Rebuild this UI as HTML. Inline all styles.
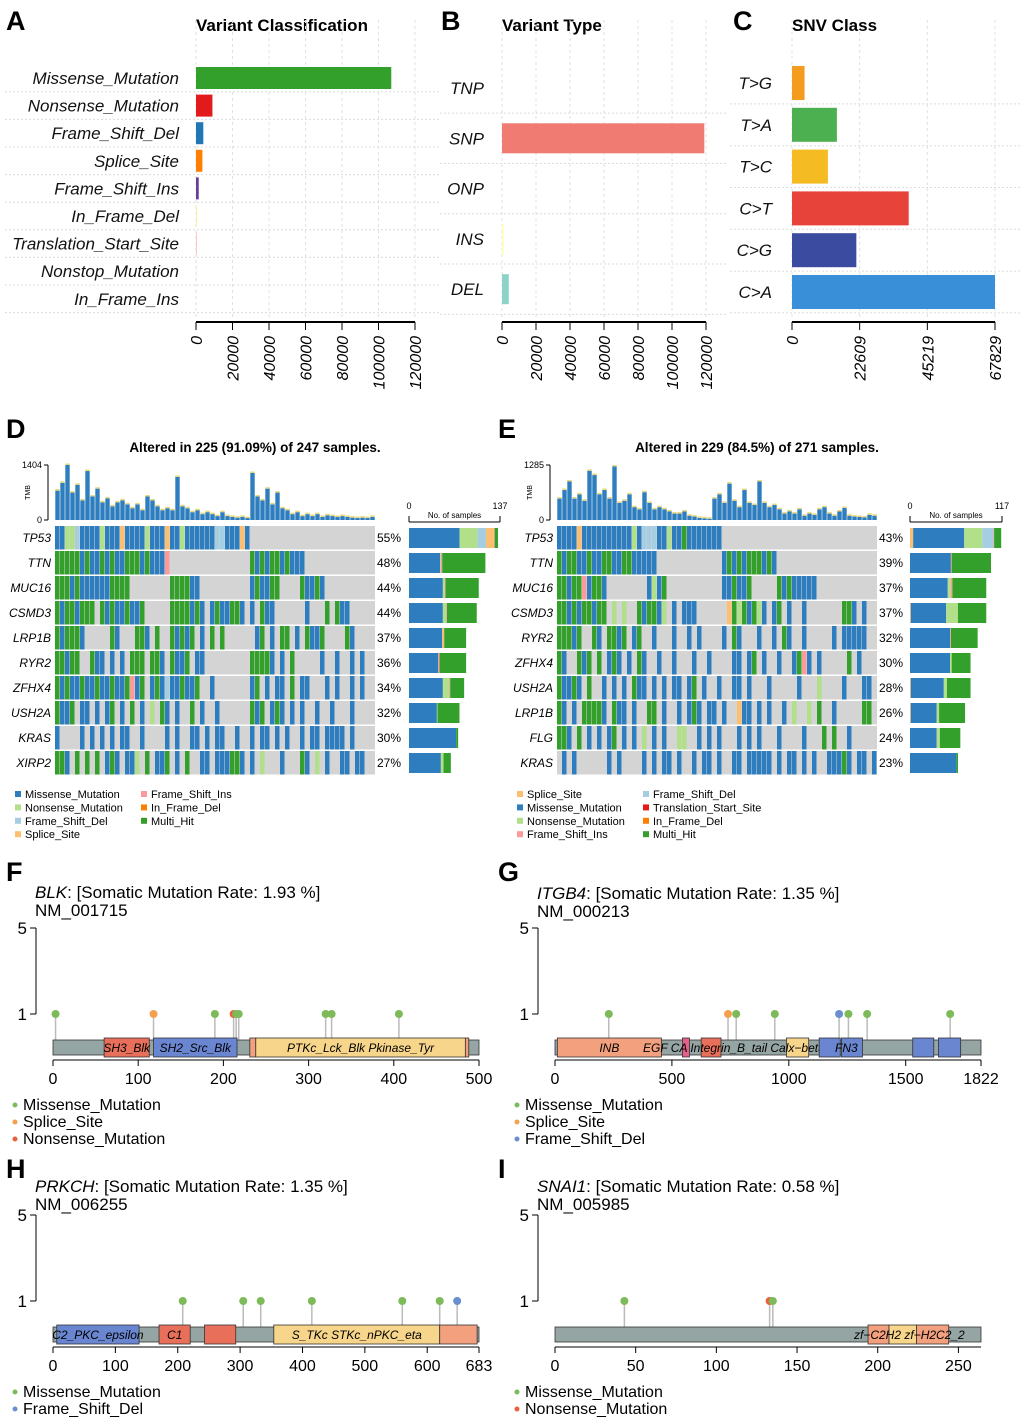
<!DOCTYPE html>
<html><head><meta charset="utf-8"><style>
html,body{margin:0;padding:0;background:#fff}
svg{display:block;font-family:"Liberation Sans",sans-serif}
</style></head><body>
<svg id="fig" width="1020" height="1424" viewBox="0 0 1020 1424" xmlns="http://www.w3.org/2000/svg"></svg>
<script>
// ---------- data ----------
const vcCats=["Missense_Mutation","Nonsense_Mutation","Frame_Shift_Del","Splice_Site","Frame_Shift_Ins","In_Frame_Del","Translation_Start_Site","Nonstop_Mutation","In_Frame_Ins"];
const vcVals=[107000,9000,4000,3500,1500,500,300,80,30];
const vcColors=["#33a02c","#e31a1c","#1f78b4","#ff7f00","#6a3d9a","#fdf2a0","#fb9a99","#a6cee3","#cab2d6"];
const vcTicks=[0,20000,40000,60000,80000,100000,120000];
const vtCats=["TNP","SNP","ONP","INS","DEL"];
const vtVals=[0,119000,0,1000,4000];
const vtColors=["#fdb462","#f07b72","#bebada","#ffffb3","#8dd3c7"];
const vtTicks=[0,20000,40000,60000,80000,100000,120000];
const snvCats=["T>G","T>A","T>C","C>T","C>G","C>A"];
const snvVals=[4200,15000,12000,39000,21500,67829];
const snvColors=["#f39c1f","#4caf50","#f5bb22","#e8433a","#3b4ba0","#3a8fd9"];
const snvTicks=[0,22609,45219,67829];

const dGenes=["TP53","TTN","MUC16","CSMD3","LRP1B","RYR2","ZFHX4","USH2A","KRAS","XIRP2"];
const dPct=["55%","48%","44%","44%","37%","36%","34%","32%","30%","27%"];
const dRows=[
"MMNNFMMMMNMMMSMMMMNMMMSMMNMMMMMMFFMMMSM",
"HHHHHMHMMHMHMMHHHMHMMMI................HMHMHHMHMMM",
"HHHMHMMMMMMHHHH........HHHHMM..........MHMMHH....HMMHM",
"HMHHMHHH.HMHMMHMMH.....HHHHMHM.MHMMHHM.M.HMM......M...H.HMM",
"HMHHHM.....HM...HHM.H..HMHMH.M.H.H......MH.M.HH.M.HMMH....HM",
"HHMHH..HMM.M.M.HHH.HHM.HMMH.MM.........HHHHM.M.H.....M..M..M.M",
"HMHMMHMMHMMHMMHIMH.MHMFMMHMMH..M.......MH.M.MM.H.MM...M.M..M.M",
"HMMH.MM.M.MH.M.H.M.N.HM.M..H.M..M......HMH.MHM.M.M..M..M...M..",
"M....M.M.M.M.MM..M....M.M..MM.M.MM..M..M.MM.M.M..M.MM.MMMM.M",
"HHM.H.H.H.MHM.MMN.H.MMH.M.H..MM.MMMHHM.M.N...M...HM.N.M..MM.MM"];
const dTmb=[750,950,1404,700,900,500,1250,600,800,450,550,350,450,500,400,300,400,250,600,500,350,250,300,250,1100,350,300,200,250,150,200,150,100,200,100,80,60,80,50,1200,600,500,800,400,700,300,250,150,200,100,150,100,150,80,120,100,80,100,80,60,50,60,50,80];
const dMax=137;
const dBarM=[76,47,51,51,50,44,51,42,71,48];
const dBarN=[27,1,3,5,0,0,10,1,0,4];
const dBarF=[13,0,0,0,0,0,0,0,0,0];
const dBarS=[12,0,0,0,3,0,0,0,0,0];
const dBarI=[1,2,1,1,0,2,1,0,0,0];
const dBarH=[5,65,50,45,33,40,21,33,3,11];

const eGenes=["TP53","TTN","MUC16","CSMD3","RYR2","ZFHX4","USH2A","LRP1B","FLG","KRAS"];
const ePct=["43%","39%","37%","37%","32%","30%","28%","26%","24%","23%"];
const eRows=[
"MMMMSMMMMMMMMMMNMFFFMMNMMHMMMMMMM",
"HMHHMMHMMHHMMHHMMMMM.............MHMHMHHHMHM",
"HHMHHIMHHM........MNMH...........MMHMMH.....HMHMMMMM",
"HHMHMHHMHH.N.N..HMHHMN.M.MMM......SHNHMHNM.MH.M..M.......HHM.M",
"HHHMH..HM.HHMH.MH..M...M..M.M....M.HM...M..M.HM..M.....M.MMMMM",
"HM..HMH.H.MHM.M.HM..M..M...M..M....MM.MH.M..M..MHIM.M.....H.M",
"HMMHM.H..M.M.M.HMM.M.M.MM.MH.M..M..MM.M...M.....M...N....M...MM",
"HM.M.HHHHM.HMM.M..HH.M..M.MHM.MM.M..SMM.M.M..M.N..N.H..M.....HH",
"HHM.H.M.M.MH.M.M.N.M.M..NN..M.M.M...M.M.M...M....M...H.H..M..",
".M.M......M.M....M.M.MM.M..M.MM.M..MM.MMMMM.M.MM.M.M..MMMHM.MM.M"];
const eTmb=[500,700,900,500,600,450,1150,1050,600,700,500,1250,400,450,600,300,250,650,400,250,300,250,200,150,150,200,100,80,50,40,30,500,600,400,850,450,300,700,400,350,900,400,300,350,250,150,200,150,250,100,150,120,250,300,150,100,200,280,100,80,70,60,120,100];
const eMax=117;
const eBarS=[4,0,0,1,0,0,1,1,0,0];
const eBarM=[65,52,48,45,51,51,42,33,34,59];
const eBarN=[23,0,4,15,0,2,4,3,4,0];
const eBarF=[14,0,0,0,0,0,0,0,0,0];
const eBarI=[1,1,2,0,1,0,0,0,0,0];
const eBarH=[9,50,43,36,34,24,30,33,26,2];

// lollipop data
const blkDom=[["SH3_Blk",60,113,"#e8705a"],["SH2_Src_Blk",118,216,"#6a86d1"],["",231,238,"#f2a07d"],["PTKc_Lck_Blk    Pkinase_Tyr",238,484,"#f7d58a"],["",484,488,"#f2a07d"]];
const blkPos=[3,118,190,212,215,218,320,327,406];
const blkType=["M","S","M","N","M","M","M","M","M"];
const itgDom=[["INB",10,455,"#f2a07d"],["",545,575,"#e3608a"],["",625,710,"#e8705a"],["Calx−beta",990,1085,"#f7d58a"],["",1130,1220,"#6a86d1"],["",1225,1315,"#6a86d1"],["",1530,1620,"#6a86d1"],["",1640,1735,"#6a86d1"]];
const itgPos=[230,740,775,940,1215,1255,1335,1690];
const itgType=["M","S","M","M","F","M","M","M"];
const prkDom=[["C2_PKC_epsilon",6,138,"#6a86d1"],["C1",170,220,"#e8705a"],["",243,293,"#e8705a"],["S_TKc   STKc_nPKC_eta",354,620,"#f7d58a"],["",620,680,"#f2a07d"]];
const prkPos=[208,305,333,415,560,620,648];
const prkType=["M","M","M","M","M","M","F"];
const snaDom=[["",194,207,"#f2a07d"],["",207,224,"#f7d58a"],["",224,244,"#f2a07d"]];
const snaPos=[43,133,135];
const snaType=["M","N","M"];

// ---------- helpers ----------
const NS="http://www.w3.org/2000/svg";
const svg=document.getElementById("fig");
function mk(tag,attrs,parent,txt){const e=document.createElementNS(NS,tag);for(const k in attrs)e.setAttribute(k,attrs[k]);if(txt!==undefined)e.textContent=txt;(parent||svg).appendChild(e);return e;}
function grp(name){const g=mk("g",{});


return g;}

[["A",6,30],["B",441,30],["C",733,30],["D",6,438],["E",498,438],["F",6,881],["G",498,881],["H",6,1178],["I",498,1178]].forEach(([l,x,y])=>{
 const t=mk("text",{x:x,y:y,"font-size":27,"font-weight":"bold"},svg,l);
 
 
});

// ---------- summary bar charts ----------
function hbar(name,title,cats,vals,colors,ticks,x0,x1,vmax,y0,step,bh,gridL,gridR,labelX){
 const g=grp(name);
 const sx=v=>x0+(v/vmax)*(x1-x0);
 const t=mk("text",{x:x0,y:31,"font-size":17,"font-weight":"bold"},g,title);
 
 
 ticks.forEach(v=>{mk("line",{x1:sx(v),x2:sx(v),y1:20,y2:320,stroke:"#e2e2e2","stroke-dasharray":"3,3"},g);});
 cats.forEach((c,i)=>{
  const yc=y0+i*step;
  mk("line",{x1:gridL,x2:gridR,y1:yc+step/2,y2:yc+step/2,stroke:"#dcdcdc","stroke-dasharray":"2,2"},g);
  const lb=mk("text",{x:labelX,y:yc+6,"font-size":17,"font-style":"italic","text-anchor":"end",fill:"#111"},g,c);
  
  
  const r=mk("rect",{x:x0,y:yc-bh/2,width:Math.max(0,sx(vals[i])-x0),height:bh,fill:colors[i]},g);
  
  
 });
 mk("line",{x1:x0,x2:x1,y1:322,y2:322,stroke:"#000","stroke-width":2},g);
 ticks.forEach(v=>{
  mk("line",{x1:sx(v),x2:sx(v),y1:322,y2:330,stroke:"#000","stroke-width":1},g);
  const tl=mk("text",{x:0,y:0,"font-size":16,"font-style":"italic","text-anchor":"end",transform:`translate(${sx(v)+6},336) rotate(-90)`},g,String(v));
  
  
 });
}
hbar("variant-classification-chart","Variant Classification",vcCats,vcVals,vcColors,vcTicks,196,415,120000,78,27.6,22,5,440,179);
hbar("variant-type-chart","Variant Type",vtCats,vtVals,vtColors,vtTicks,502,706,120000,88,50.3,30,440,728,484);
hbar("snv-class-chart","SNV Class",snvCats,snvVals,snvColors,snvTicks,792,995,67829,83,41.8,34,730,1020,772);

// ---------- oncoplots ----------
const mutCol={M:"#2e7ebf",H:"#33a02c",N:"#b2df8a",F:"#a6cee3",S:"#fdbf6f",I:"#fb9a99",D:"#ff7f00",T:"#e31a1c"};
function oncoplot(name,title,titleX,genes,pct,rows,tmb,tmbMaxLabel,mx,x0,x1,bx0,bx1,bars,barKeys,legend,legX){
 const g=grp(name);
 const tt=mk("text",{x:titleX,y:452,"font-size":13.5,"font-weight":"bold","text-anchor":"middle"},g,title);
 
 
 const tmax=tmbMaxLabel, tyTop=465, tyBot=520;
 mk("line",{x1:x0-7,x2:x0-7,y1:tyTop,y2:tyBot,stroke:"#000"},g);
 mk("line",{x1:x0-11,x2:x0-7,y1:tyTop,y2:tyTop,stroke:"#000"},g);
 mk("line",{x1:x0-11,x2:x0-7,y1:tyBot,y2:tyBot,stroke:"#000"},g);
 mk("text",{x:x0-13,y:tyTop+3,"font-size":9,"text-anchor":"end"},g,String(tmax));
 mk("text",{x:x0-13,y:tyBot+3,"font-size":9,"text-anchor":"end"},g,"0");
 mk("text",{x:0,y:0,"font-size":7,"text-anchor":"middle",transform:`translate(${x0-25},${(tyTop+tyBot)/2}) rotate(-90)`},g,"TMB");
 const tw=(x1-x0)/tmb.length;
 tmb.forEach((v,i)=>{
  const h=v/tmax*(tyBot-tyTop);
  const b=mk("rect",{x:x0+i*tw+0.3,y:tyBot-h,width:tw-0.6,height:h,fill:"#2e7ebf"},g);
  
  
  mk("rect",{x:x0+i*tw+0.3,y:tyBot-h-1.5,width:tw-0.6,height:1.5,fill:"#e8d77a"},g);
 });
 const ncol=64, cw=(x1-x0)/ncol, rh=25, my=526;
 genes.forEach((gn,r)=>{
  const y=my+r*rh;
  const bg=mk("rect",{x:x0,y:y,width:x1-x0,height:rh-1.5,fill:"#d4d4d4"},g);
  
  
  const s=rows[r];
  for(let c=0;c<ncol&&c<s.length;c++){
   const ch=s[c]; if(ch==='.')continue;
   const cell=mk("rect",{x:x0+c*cw,y:y,width:cw-0.5,height:rh-1.5,fill:mutCol[ch]},g);
   
   
  }
  const gl=mk("text",{x:x0-4,y:y+16,"font-size":12,"font-style":"italic","text-anchor":"end"},g,gn);
  
  
  const pl=mk("text",{x:x1+2,y:y+16,"font-size":12},g,pct[r]);
  
  
  let bx=bx0;
  barKeys.forEach((k,ki)=>{
   const v=bars[ki][r]; if(!v)return;
   const w=v/mx*(bx1-bx0);
   const sb=mk("rect",{x:bx,y:y+2,width:w,height:rh-5,fill:mutCol[k]},g);
   
   
   bx+=w;
  });
 });
 mk("line",{x1:bx0,x2:bx1,y1:522,y2:522,stroke:"#000"},g);
 mk("line",{x1:bx0,x2:bx0,y1:516,y2:522,stroke:"#000"},g);
 mk("line",{x1:bx1,x2:bx1,y1:516,y2:522,stroke:"#000"},g);
 mk("text",{x:bx0,y:509,"font-size":9,"text-anchor":"middle"},g,"0");
 mk("text",{x:bx1,y:509,"font-size":9,"text-anchor":"middle"},g,String(mx));
 mk("text",{x:(bx0+bx1)/2,y:518,"font-size":8,"text-anchor":"middle"},g,"No. of samples");
 legend.forEach(([k,lab,col,row],i)=>{
  const lx=legX+col*126, ly=796+row*13.4;
  const sq=mk("rect",{x:lx,y:ly-5,width:6,height:6,fill:mutCol[k]},g);
  
  
  const lt=mk("text",{x:lx+10,y:ly+2,"font-size":11},g,lab);
  
  
 });
}
oncoplot("oncoplot-d","Altered in 225 (91.09%) of 247 samples.",255,dGenes,dPct,dRows,dTmb,1404,dMax,55,375,409,500,
 [dBarM,dBarN,dBarF,dBarS,dBarI,dBarH],["M","N","F","S","I","H"],
 [["M","Missense_Mutation",0,0],["N","Nonsense_Mutation",0,1],["F","Frame_Shift_Del",0,2],["S","Splice_Site",0,3],["I","Frame_Shift_Ins",1,0],["D","In_Frame_Del",1,1],["H","Multi_Hit",1,2]],15);
oncoplot("oncoplot-e","Altered in 229 (84.5%) of 271 samples.",757,eGenes,ePct,eRows,eTmb,1285,eMax,557,877,910,1002,
 [eBarS,eBarM,eBarN,eBarF,eBarI,eBarH],["S","M","N","F","I","H"],
 [["S","Splice_Site",0,0],["M","Missense_Mutation",0,1],["N","Nonsense_Mutation",0,2],["I","Frame_Shift_Ins",0,3],["F","Frame_Shift_Del",1,0],["T","Translation_Start_Site",1,1],["D","In_Frame_Del",1,2],["H","Multi_Hit",1,3]],517);

// ---------- lollipops ----------
const lolCol={M:"#7dbb5a",S:"#f5a050",N:"#e8603c",F:"#6a8fcf"};
function lollipop(name,gene,rate,nm,x0,x1,len,ticks,doms,pos,types,yTop,y5,y1,by,legend,extraLabels){
 const g=grp(name);
 const sx=v=>x0+v/len*(x1-x0);
 const t=mk("text",{x:x0-18,y:yTop,"font-size":17},g);
 mk("tspan",{"font-style":"italic"},t,gene);
 mk("tspan",{},t,": [Somatic Mutation Rate: "+rate+" %]");
 
 
 mk("text",{x:x0-18,y:yTop+18,"font-size":17},g,nm);
 const bh=15, ay=by+bh+5;
 mk("line",{x1:x0-17,x2:x0-17,y1:y5,y2:y1,stroke:"#000"},g);
 mk("line",{x1:x0-23,x2:x0-17,y1:y5,y2:y5,stroke:"#000"},g);
 mk("line",{x1:x0-23,x2:x0-17,y1:y1,y2:y1,stroke:"#000"},g);
 mk("text",{x:x0-26,y:y5+6,"font-size":17,"text-anchor":"end"},g,"5");
 mk("text",{x:x0-26,y:y1+6,"font-size":17,"text-anchor":"end"},g,"1");
 pos.forEach((p,i)=>{mk("line",{x1:sx(p),x2:sx(p),y1:y1,y2:by,stroke:"#bbb","stroke-width":1.5},g);});
 const pb=mk("rect",{x:x0,y:by,width:x1-x0,height:bh,fill:"#95a5a3",stroke:"#333","stroke-width":0.8},g);
 
 
 doms.forEach(([lab,s,e,c])=>{
  const d=mk("rect",{x:sx(s),y:by-2,width:sx(e)-sx(s),height:bh+4,fill:c,stroke:"#333","stroke-width":0.8},g);
  
  
  if(lab){mk("text",{x:(sx(s)+sx(e))/2,y:by+12,"font-size":12,"font-style":"italic","text-anchor":"middle","xml:space":"preserve"},g,lab);}
 });
 (extraLabels||[]).forEach(([lab,x])=>{mk("text",{x:x,y:by+12,"font-size":12,"font-style":"italic","xml:space":"preserve"},g,lab);});
 pos.forEach((p,i)=>{
  const c=mk("circle",{cx:sx(p),cy:y1,r:4,fill:lolCol[types[i]]},g);
  
  
 });
 mk("line",{x1:x0,x2:x1,y1:ay,y2:ay,stroke:"#000"},g);
 ticks.forEach(v=>{
  mk("line",{x1:sx(v),x2:sx(v),y1:ay,y2:ay+6,stroke:"#000"},g);
  const tl=mk("text",{x:sx(v),y:ay+24,"font-size":16,"text-anchor":"middle"},g,String(v));
  
  
 });
 legend.forEach(([k,lab],i)=>{
  const ly=ay+50+i*17;
  mk("circle",{cx:x0-38,cy:ly-5,r:2.5,fill:lolCol[k]},g);
  const lt=mk("text",{x:x0-30,y:ly,"font-size":16},g,lab);
  
  
 });
}
lollipop("lollipop-blk","BLK","1.93","NM_001715",53,479,500,[0,100,200,300,400,500],blkDom,blkPos,blkType,898,928,1014,1040,[["M","Missense_Mutation"],["S","Splice_Site"],["N","Nonsense_Mutation"]]);
lollipop("lollipop-itgb4","ITGB4","1.35","NM_000213",555,981,1822,[0,500,1000,1500,1822],itgDom,itgPos,itgType,899,928,1014,1040,[["M","Missense_Mutation"],["S","Splice_Site"],["F","Frame_Shift_Del"]],[["EGF  CA Integrin_B_tail",643],["FN3",835]]);
lollipop("lollipop-prkch","PRKCH","1.35","NM_006255",53,479,683,[0,100,200,300,400,500,600,683],prkDom,prkPos,prkType,1192,1215,1301,1327,[["M","Missense_Mutation"],["F","Frame_Shift_Del"]]);
lollipop("lollipop-snai1","SNAI1","0.58","NM_005985",555,981,264,[0,50,100,150,200,250],snaDom,snaPos,snaType,1192,1215,1301,1327,[["M","Missense_Mutation"],["N","Nonsense_Mutation"]],[["zf−C2H2  zf−H2C2_2",854]]);
</script>
</body></html>
